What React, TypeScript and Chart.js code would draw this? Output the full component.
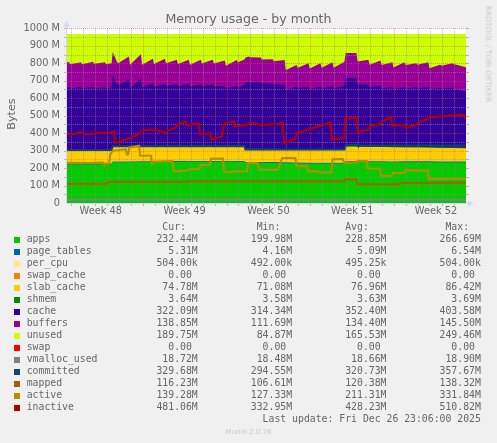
import React, { useEffect, useRef } from "react";
import { Chart, registerables } from "chart.js";

Chart.register(...registerables);

// ---- time axis (days since the start of ISO week 48) ----
const X_MIN = 0.68;
const X_MAX = 34.0;
const WEEK_TICKS = [3.5, 10.5, 17.5, 24.5, 31.5];
const WEEK_LABELS = ["Week 48", "Week 49", "Week 50", "Week 51", "Week 52"];
const Y_TICKS = [0, 100, 200, 300, 400, 500, 600, 700, 800, 900, 1000];
const Y_LABELS = ["0", "100 M", "200 M", "300 M", "400 M", "500 M", "600 M", "700 M", "800 M", "900 M", "1000 M"];

// sample times shared by the stacked areas
const DAYS = [0.68, 0.85, 0.95, 1.85, 1.95, 2.85, 2.95, 3.85, 3.95, 4.4, 4.5, 4.85, 4.95, 5.85, 5.95, 6.85, 6.95, 7.85, 7.95, 8.85, 8.95, 9.85, 9.95, 10.85, 10.95, 11.85, 11.95, 12.85, 12.95, 13.85, 13.95, 14.85, 14.95, 15.5, 15.58, 15.85, 15.95, 16.85, 16.95, 17.85, 17.95, 18.85, 18.95, 19.85, 19.95, 20.85, 20.95, 21.85, 21.95, 22.85, 22.95, 23.85, 23.95, 24.85, 24.95, 25.85, 25.95, 26.85, 26.95, 27.85, 27.95, 28.85, 28.95, 29.85, 29.95, 30.85, 30.95, 31.85, 31.95, 32.85, 32.95, 34.0];

// stacked series, values in MB
const APPS = [221, 222, 221, 222, 221, 222, 221, 222, 221, 222, 233, 233, 233, 233, 233, 234, 234, 234, 234, 235, 235, 235, 235, 236, 236, 236, 236, 236, 236, 236, 236, 236, 236, 236, 230, 230, 230, 230, 230, 229, 229, 228, 228, 227, 227, 226, 226, 226, 226, 226, 226, 226, 234, 234, 234, 234, 234, 234, 234, 233, 233, 233, 233, 233, 233, 233, 233, 232.5, 232.5, 232.5, 232.5, 232.4];
const PAGE_TABLES = [4.6, 4.6, 4.6, 4.6, 4.6, 4.6, 4.6, 4.6, 4.6, 4.6, 4.8, 4.8, 4.8, 4.8, 4.8, 4.8, 4.8, 4.8, 4.8, 4.8, 4.8, 4.8, 4.8, 4.8, 4.8, 4.8, 4.8, 4.8, 4.8, 4.8, 4.8, 4.8, 4.8, 4.8, 5.0, 5.0, 5.0, 5.0, 5.0, 5.0, 5.0, 5.0, 5.0, 5.0, 5.0, 5.0, 5.0, 5.0, 5.0, 5.0, 5.0, 5.0, 5.2, 5.2, 5.2, 5.2, 5.2, 5.2, 5.2, 5.2, 5.2, 5.3, 5.3, 5.3, 5.3, 5.3, 5.3, 5.3, 5.3, 5.3, 5.3, 5.31];
const PER_CPU = [0.49, 0.49, 0.49, 0.49, 0.49, 0.49, 0.49, 0.49, 0.49, 0.49, 0.49, 0.49, 0.49, 0.49, 0.49, 0.49, 0.49, 0.49, 0.49, 0.49, 0.49, 0.49, 0.49, 0.49, 0.49, 0.49, 0.49, 0.49, 0.49, 0.49, 0.49, 0.49, 0.49, 0.49, 0.49, 0.49, 0.49, 0.49, 0.49, 0.49, 0.49, 0.49, 0.49, 0.49, 0.49, 0.49, 0.49, 0.49, 0.49, 0.49, 0.49, 0.49, 0.49, 0.49, 0.49, 0.49, 0.49, 0.49, 0.49, 0.49, 0.5, 0.5, 0.5, 0.5, 0.5, 0.5, 0.5, 0.5, 0.5, 0.5, 0.5, 0.5];
const SWAP_CACHE = [0, 0, 0, 0, 0, 0, 0, 0, 0, 0, 0, 0, 0, 0, 0, 0, 0, 0, 0, 0, 0, 0, 0, 0, 0, 0, 0, 0, 0, 0, 0, 0, 0, 0, 0, 0, 0, 0, 0, 0, 0, 0, 0, 0, 0, 0, 0, 0, 0, 0, 0, 0, 0, 0, 0, 0, 0, 0, 0, 0, 0, 0, 0, 0, 0, 0, 0, 0, 0, 0, 0, 0];
const SLAB_CACHE = [77.0, 77.2, 76.8, 77.1, 76.9, 77.3, 76.8, 77.2, 76.9, 77.0, 84.5, 84.5, 84.5, 84.5, 84.5, 83.5, 83.5, 83.5, 83.5, 82.5, 82.5, 82.5, 82.5, 81.5, 81.5, 81.5, 81.5, 81.5, 81.5, 81.5, 81.5, 81.5, 81.5, 81.5, 72.0, 72.3, 71.8, 72.2, 71.9, 72.4, 71.8, 72.1, 71.6, 72.0, 71.7, 72.2, 71.9, 72.3, 71.8, 72.0, 71.6, 72.1, 82.5, 82.5, 82.0, 81.5, 81.5, 80.5, 80.5, 80.5, 80.5, 79.5, 79.5, 78.5, 78.5, 77.5, 77.5, 77.0, 77.0, 76.0, 76.0, 74.8];
const SHMEM = [3.6, 3.6, 3.6, 3.6, 3.6, 3.6, 3.6, 3.6, 3.6, 3.6, 3.6, 3.6, 3.6, 3.6, 3.6, 3.6, 3.6, 3.6, 3.6, 3.6, 3.6, 3.6, 3.6, 3.6, 3.6, 3.6, 3.6, 3.6, 3.6, 3.6, 3.6, 3.6, 3.6, 3.6, 3.6, 3.6, 3.6, 3.6, 3.6, 3.6, 3.6, 3.6, 3.6, 3.6, 3.6, 3.6, 3.6, 3.6, 3.6, 3.6, 3.6, 3.6, 3.6, 3.6, 3.6, 3.6, 3.6, 3.6, 3.6, 3.6, 3.6, 3.6, 3.6, 3.6, 3.6, 3.6, 3.6, 3.6, 3.6, 3.6, 3.6, 3.64];
const CACHE = [352.3, 354.3, 348.3, 356.3, 350.3, 354.3, 348.3, 354.3, 350.3, 352.3, 403.6, 355.6, 349.6, 378.6, 331.6, 388.6, 336.6, 359.6, 338.6, 357.6, 345.6, 353.6, 341.6, 356.6, 341.6, 351.6, 341.6, 353.6, 341.6, 341.6, 330.6, 343.6, 333.6, 349.6, 378.9, 383.9, 378.9, 380.9, 374.9, 373.9, 367.9, 370.9, 340.9, 356.9, 349.9, 356.9, 344.9, 359.9, 348.9, 360.9, 350.9, 362.9, 389.2, 388.2, 354.7, 353.2, 337.2, 348.2, 333.2, 340.2, 329.2, 340.1, 333.1, 341.1, 335.1, 342.1, 332.1, 341.1, 336.1, 342.1, 337.1, 322.1];
const BUFFERS = [148, 143, 139, 141, 137, 146, 142, 143, 137, 140, 135, 126, 124, 134, 133, 137, 128, 139, 130, 141, 128, 140, 127, 137, 124, 142, 130, 140, 130, 147, 128, 148, 145, 146, 142, 143, 145, 140, 136, 138, 134, 138, 112, 125, 117, 136, 118, 133, 119, 137, 117, 138, 143, 144, 130, 142, 130, 143, 133, 142, 123, 143, 135, 138, 136, 143, 120, 132, 130, 140, 140, 138.9];
const UNUSED = [159, 162, 172, 162, 172, 159, 169, 162, 172, 167, 102, 159, 167, 128, 176, 115, 176, 142, 172, 142, 167, 147, 172, 147, 175, 147, 169, 147, 169, 152, 182, 149, 162, 145, 135, 129, 132, 135, 145, 145, 155, 149, 205, 177, 192, 167, 197, 167, 192, 162, 192, 159, 109, 109, 157, 147, 175, 152, 177, 162, 192, 162, 177, 167, 175, 162, 195, 175, 182, 167, 172, 189.8];
const SWAP = [0, 0, 0, 0, 0, 0, 0, 0, 0, 0, 0, 0, 0, 0, 0, 0, 0, 0, 0, 0, 0, 0, 0, 0, 0, 0, 0, 0, 0, 0, 0, 0, 0, 0, 0, 0, 0, 0, 0, 0, 0, 0, 0, 0, 0, 0, 0, 0, 0, 0, 0, 0, 0, 0, 0, 0, 0, 0, 0, 0, 0, 0, 0, 0, 0, 0, 0, 0, 0, 0, 0, 0];

// line series: [day, MB]
const VMALLOC_USED: [number, number][] = [[0.68, 18.6], [12, 18.5], [24, 18.8], [34.0, 18.72]];
const COMMITTED: [number, number][] = [[0.68, 303], [4.4, 304], [4.5, 325], [15.5, 326], [15.58, 306], [23.85, 306], [23.95, 330], [24.9, 334], [24.97, 328], [34.0, 329.7]];
const MAPPED: [number, number][] = [[0.68, 110], [4.0, 110], [4.15, 121], [10.8, 121], [10.9, 124], [23.85, 124], [23.9, 135], [24.85, 135], [24.95, 107], [28.4, 107], [28.5, 114], [34.0, 116.2]];
const ACTIVE: [number, number][] = [[0.68, 230], [2.5, 229], [3.7, 232], [3.75, 224], [4.2, 224], [4.3, 280], [4.5, 300], [5.6, 307], [5.68, 278], [5.8, 280], [5.88, 318], [6.7, 328], [6.78, 272], [7.7, 270], [7.78, 222], [7.9, 236], [9.5, 240], [9.6, 181], [10.7, 185], [10.8, 193], [11.75, 195], [11.85, 219], [12.6, 219], [12.7, 253], [13.7, 255], [13.8, 178], [14.5, 176], [14.55, 181], [15.7, 182], [15.8, 229], [16.6, 230], [16.75, 190], [18.3, 190], [18.65, 258], [19.75, 258], [19.85, 210], [20.7, 212], [20.8, 181], [21.6, 183], [21.75, 175], [22.75, 175], [22.85, 251], [23.7, 252], [23.85, 230], [24.85, 232], [24.95, 240], [25.7, 240], [25.8, 198], [26.8, 196], [26.9, 156], [27.8, 156], [27.9, 172], [28.85, 172], [28.95, 187], [30.8, 186], [30.9, 138], [34.0, 139.3]];
const INACTIVE: [number, number][] = [[0.68, 408], [0.9, 393], [1.4, 395], [1.5, 401], [2.0, 403], [2.1, 395], [2.9, 396], [3.0, 402], [4.0, 400], [4.6, 410], [4.7, 343], [5.0, 350], [5.8, 370], [6.6, 391], [6.95, 413], [7.4, 419], [7.8, 419], [8.3, 413], [8.65, 409], [8.8, 400], [9.05, 413], [9.7, 429], [9.95, 448], [10.6, 467], [10.72, 445], [11.7, 457], [11.78, 391], [12.63, 400], [12.72, 362], [13.63, 381], [13.8, 455], [14.62, 467], [14.71, 438], [15.71, 448], [15.79, 457], [16.55, 457], [16.71, 448], [17.4, 448], [18.5, 455], [18.65, 463], [18.85, 343], [19.7, 362], [19.9, 400], [21.0, 425], [22.0, 445], [22.7, 462], [22.8, 362], [23.7, 372], [23.85, 374], [23.92, 484], [24.88, 486], [24.95, 406], [25.4, 412], [25.85, 418], [25.95, 440], [26.8, 452], [27.0, 465], [27.75, 495], [27.85, 440], [28.85, 450], [28.95, 432], [29.8, 445], [30.0, 460], [30.8, 482], [31.0, 490], [32.0, 497], [33.0, 503], [33.8, 505], [34.0, 481]];

// legend table
const LABELS = ["apps", "page_tables", "per_cpu", "swap_cache", "slab_cache", "shmem", "cache", "buffers", "unused", "swap", "vmalloc_used", "committed", "mapped", "active", "inactive"];
const COLORS = ["#00CC00", "#0066B3", "#FFE680", "#FF8000", "#FFCC00", "#008F00", "#330099", "#990099", "#CCFF00", "#FF0000", "#808080", "#00487D", "#B35A00", "#B38F00", "#B30000"];
const CUR = ["232.44M", "5.31M", "504.00k", "0.00", "74.78M", "3.64M", "322.09M", "138.85M", "189.75M", "0.00", "18.72M", "329.68M", "116.23M", "139.28M", "481.06M"];
const MIN = ["199.98M", "4.16M", "492.00k", "0.00", "71.08M", "3.58M", "314.34M", "111.69M", "84.87M", "0.00", "18.48M", "294.55M", "106.61M", "127.33M", "332.95M"];
const AVG = ["228.85M", "5.09M", "495.25k", "0.00", "76.96M", "3.63M", "352.40M", "134.40M", "165.53M", "0.00", "18.66M", "320.73M", "120.38M", "211.31M", "428.23M"];
const MAX = ["266.69M", "6.54M", "504.00k", "0.00", "86.42M", "3.69M", "403.58M", "145.50M", "249.46M", "0.00", "18.90M", "357.67M", "138.32M", "331.84M", "510.82M"];
const HEADERS = ["Cur:", "Min:", "Avg:", "Max:"];
const HEADER_COLS = [23, 39, 54, 71];
const LAST_UPDATE = "Last update: Fri Dec 26 23:06:00 2025";

const GRID = "rgba(143,143,143,0.6)";
const MGRID = "rgba(222,79,79,0.5)";
const AXIS = "#CFD6F8";
const FONT = "#666666";

const muninPlugin = {
  id: "munin",
  beforeDatasetsDraw(chart: any) {
    const { ctx, chartArea: a } = chart;
    ctx.save();
    ctx.fillStyle = "#FFFFFF";
    ctx.fillRect(a.left, a.top, a.right - a.left, a.bottom - a.top);
    ctx.restore();
  },
  afterDatasetDraw(chart: any, args: any) {
    if (args.index !== 0) return;
    const { ctx, chartArea: a, scales } = chart;
    const xs = scales.x;
    const ys = scales.y;
    ctx.save();
    ctx.lineWidth = 1;
    for (let d = Math.ceil(xs.min); d <= xs.max; d++) {
      const px = Math.round(xs.getPixelForValue(d)) + 0.5;
      if (px < a.left || px > a.right) continue;
      ctx.strokeStyle = d % 7 === 0 ? MGRID : GRID;
      ctx.setLineDash([1, 1]);
      ctx.beginPath();
      ctx.moveTo(px, a.top);
      ctx.lineTo(px, a.bottom);
      ctx.stroke();
      ctx.setLineDash([]);
      ctx.beginPath();
      ctx.moveTo(px, a.bottom);
      ctx.lineTo(px, a.bottom + 3);
      ctx.stroke();
    }
    for (let v = 50; v <= 1000; v += 50) {
      const py = Math.round(ys.getPixelForValue(v)) + 0.5;
      ctx.strokeStyle = v % 100 === 0 ? MGRID : GRID;
      ctx.setLineDash([1, 1]);
      ctx.beginPath();
      ctx.moveTo(a.left, py);
      ctx.lineTo(a.right, py);
      ctx.stroke();
      ctx.setLineDash([]);
      ctx.beginPath();
      ctx.moveTo(a.left - 3, py);
      ctx.lineTo(a.left, py);
      ctx.moveTo(a.right, py);
      ctx.lineTo(a.right + 3, py);
      ctx.stroke();
    }
    ctx.restore();
  },
  afterDraw(chart: any) {
    const { ctx, chartArea: a } = chart;
    ctx.save();
    ctx.strokeStyle = AXIS;
    ctx.fillStyle = AXIS;
    ctx.lineWidth = 1;
    const yb = Math.round(a.bottom) + 0.5;
    const xl = Math.round(a.left) - 0.5;
    ctx.beginPath();
    ctx.moveTo(xl, yb);
    ctx.lineTo(a.right + 3, yb);
    ctx.moveTo(xl, yb);
    ctx.lineTo(xl, a.top - 3);
    ctx.stroke();
    ctx.beginPath();
    ctx.moveTo(a.right + 2, yb - 3);
    ctx.lineTo(a.right + 7.5, yb);
    ctx.lineTo(a.right + 2, yb + 3);
    ctx.closePath();
    ctx.fill();
    ctx.beginPath();
    ctx.moveTo(xl - 3, a.top - 1.5);
    ctx.lineTo(xl, a.top - 7.5);
    ctx.lineTo(xl + 3, a.top - 1.5);
    ctx.closePath();
    ctx.fill();
    ctx.restore();
  },
};

const fmtVal = (s: string) => (/[0-9]$/.test(s) ? s + " " : s);

function buildLegendText(): string {
  let head = "";
  HEADERS.forEach((h, i) => {
    head = head.padEnd(HEADER_COLS[i]) + h;
  });
  const rows = LABELS.map(
    (l, i) =>
      l.padEnd(22) +
      fmtVal(CUR[i]).padStart(7) +
      fmtVal(MIN[i]).padStart(16) +
      fmtVal(AVG[i]).padStart(16) +
      fmtVal(MAX[i]).padStart(16)
  );
  return [head, ...rows, LAST_UPDATE.padStart(77)].join("\n");
}

export default function App() {
  const ref = useRef<HTMLCanvasElement>(null);

  useEffect(() => {
    document.body.style.margin = "0";
    const canvas = ref.current;
    if (!canvas) return;

    const areaSeries = [
      { label: "apps", values: APPS, color: "#00CC00", fill: true },
      { label: "page_tables", values: PAGE_TABLES, color: "#0066B3", fill: true },
      { label: "per_cpu", values: PER_CPU, color: "#FFE680", fill: true },
      { label: "swap_cache", values: SWAP_CACHE, color: "#FF8000", fill: false },
      { label: "slab_cache", values: SLAB_CACHE, color: "#FFCC00", fill: true },
      { label: "shmem", values: SHMEM, color: "#008F00", fill: true },
      { label: "cache", values: CACHE, color: "#330099", fill: true },
      { label: "buffers", values: BUFFERS, color: "#990099", fill: true },
      { label: "unused", values: UNUSED, color: "#CCFF00", fill: true },
      { label: "swap", values: SWAP, color: "#FF0000", fill: false },
    ];
    const lineSeries = [
      { label: "vmalloc_used", pts: VMALLOC_USED, color: "#808080", order: 5 },
      { label: "committed", pts: COMMITTED, color: "#00487D", order: 4 },
      { label: "mapped", pts: MAPPED, color: "#B35A00", order: 3 },
      { label: "active", pts: ACTIVE, color: "#B38F00", order: 2 },
      { label: "inactive", pts: INACTIVE, color: "#B30000", order: 1 },
    ];

    const datasets: any[] = [
      ...areaSeries.map((s) => ({
        label: s.label,
        data: DAYS.map((d, i) => ({ x: d, y: s.values[i] })),
        backgroundColor: s.color,
        borderColor: "transparent",
        borderWidth: 0,
        pointRadius: 0,
        fill: s.fill ? "origin" : false,
        stack: "mem",
        order: 10,
        tension: 0,
      })),
      ...lineSeries.map((s) => ({
        label: s.label,
        data: s.pts.map(([x, y]) => ({ x, y })),
        borderColor: s.color,
        backgroundColor: s.color,
        borderWidth: 2,
        pointRadius: 0,
        fill: false,
        stack: s.label,
        order: s.order,
        tension: 0,
      })),
    ];

    const tickFont = { family: "'DejaVu Sans', sans-serif", size: 9.8 };

    const chart = new Chart(canvas, {
      type: "line",
      data: { datasets },
      options: {
        responsive: false,
        animation: false,
        events: [],
        layout: { padding: { left: 0, top: 28.3, right: 31, bottom: 0 } },
        plugins: {
          legend: { display: false },
          tooltip: { enabled: false },
          title: { display: false },
        },
        scales: {
          x: {
            type: "linear",
            min: X_MIN,
            max: X_MAX,
            grid: { display: false, drawTicks: false, tickLength: 0 },
            border: { display: false },
            afterBuildTicks: (s: any) => {
              s.ticks = WEEK_TICKS.map((v) => ({ value: v }));
            },
            afterFit: (s: any) => {
              s.height = 240;
            },
            ticks: {
              autoSkip: false,
              maxRotation: 0,
              padding: 3,
              color: FONT,
              font: tickFont,
              callback: (v: any) => WEEK_LABELS[WEEK_TICKS.indexOf(Number(v))] ?? "",
            },
          },
          y: {
            type: "linear",
            stacked: true,
            min: 0,
            max: 1000,
            grid: { display: false, drawTicks: false, tickLength: 0 },
            border: { display: false },
            afterBuildTicks: (s: any) => {
              s.ticks = Y_TICKS.map((v) => ({ value: v }));
            },
            afterFit: (s: any) => {
              s.width = 67;
            },
            ticks: {
              autoSkip: false,
              padding: 7,
              color: FONT,
              font: tickFont,
              callback: (v: any) => Y_LABELS[Y_TICKS.indexOf(Number(v))] ?? "",
            },
          },
        },
      } as any,
      plugins: [muninPlugin],
    });

    return () => chart.destroy();
  }, []);

  const legendText = buildLegendText();

  return (
    <div
      style={{
        position: "relative",
        width: 497,
        height: 443,
        background: "#F0F0F0",
        overflow: "hidden",
      }}
    >
      <style>{"body{margin:0}"}</style>
      <canvas ref={ref} width={497} height={443} style={{ position: "absolute", left: 0, top: 0, width: 497, height: 443 }} />
      <div
        style={{
          position: "absolute",
          left: 0,
          top: 13.3,
          width: 497,
          textAlign: "center",
          fontFamily: "'DejaVu Sans', sans-serif",
          fontSize: "12.6px",
          lineHeight: "12.6px",
          color: FONT,
          whiteSpace: "pre",
        }}
      >
        Memory usage - by month
      </div>
      <div
        style={{
          position: "absolute",
          left: 11.5,
          top: 114,
          transform: "translate(-50%, -50%) rotate(-90deg)",
          fontFamily: "'DejaVu Sans', sans-serif",
          fontSize: "11.2px",
          lineHeight: "11.2px",
          color: FONT,
          whiteSpace: "pre",
        }}
      >
        Bytes
      </div>
      <div
        style={{
          position: "absolute",
          left: 487.5,
          top: 54,
          transform: "translate(-50%, -50%) rotate(90deg)",
          fontFamily: "'DejaVu Sans', sans-serif",
          fontSize: "7.5px",
          lineHeight: "7.5px",
          color: "#C8C8C8",
          whiteSpace: "pre",
        }}
      >
        RRDTOOL / TOBI OETIKER
      </div>
      {COLORS.map((c, i) => (
        <div
          key={LABELS[i]}
          style={{
            position: "absolute",
            left: 14,
            top: 236.9 + 12 * i,
            width: 6,
            height: 6,
            background: c,
          }}
        />
      ))}
      <pre
        style={{
          position: "absolute",
          left: 26.7,
          top: 221.3,
          margin: 0,
          fontFamily: "'DejaVu Sans Mono', monospace",
          fontSize: "9.8px",
          lineHeight: "12px",
          color: FONT,
          whiteSpace: "pre",
        }}
      >
        {legendText}
      </pre>
      <div
        style={{
          position: "absolute",
          left: 0,
          top: 429,
          width: 497,
          textAlign: "center",
          fontFamily: "'DejaVu Sans', sans-serif",
          fontSize: "7px",
          lineHeight: "7px",
          color: "#C8C8C8",
          whiteSpace: "pre",
        }}
      >
        Munin 2.0.76
      </div>
    </div>
  );
}
